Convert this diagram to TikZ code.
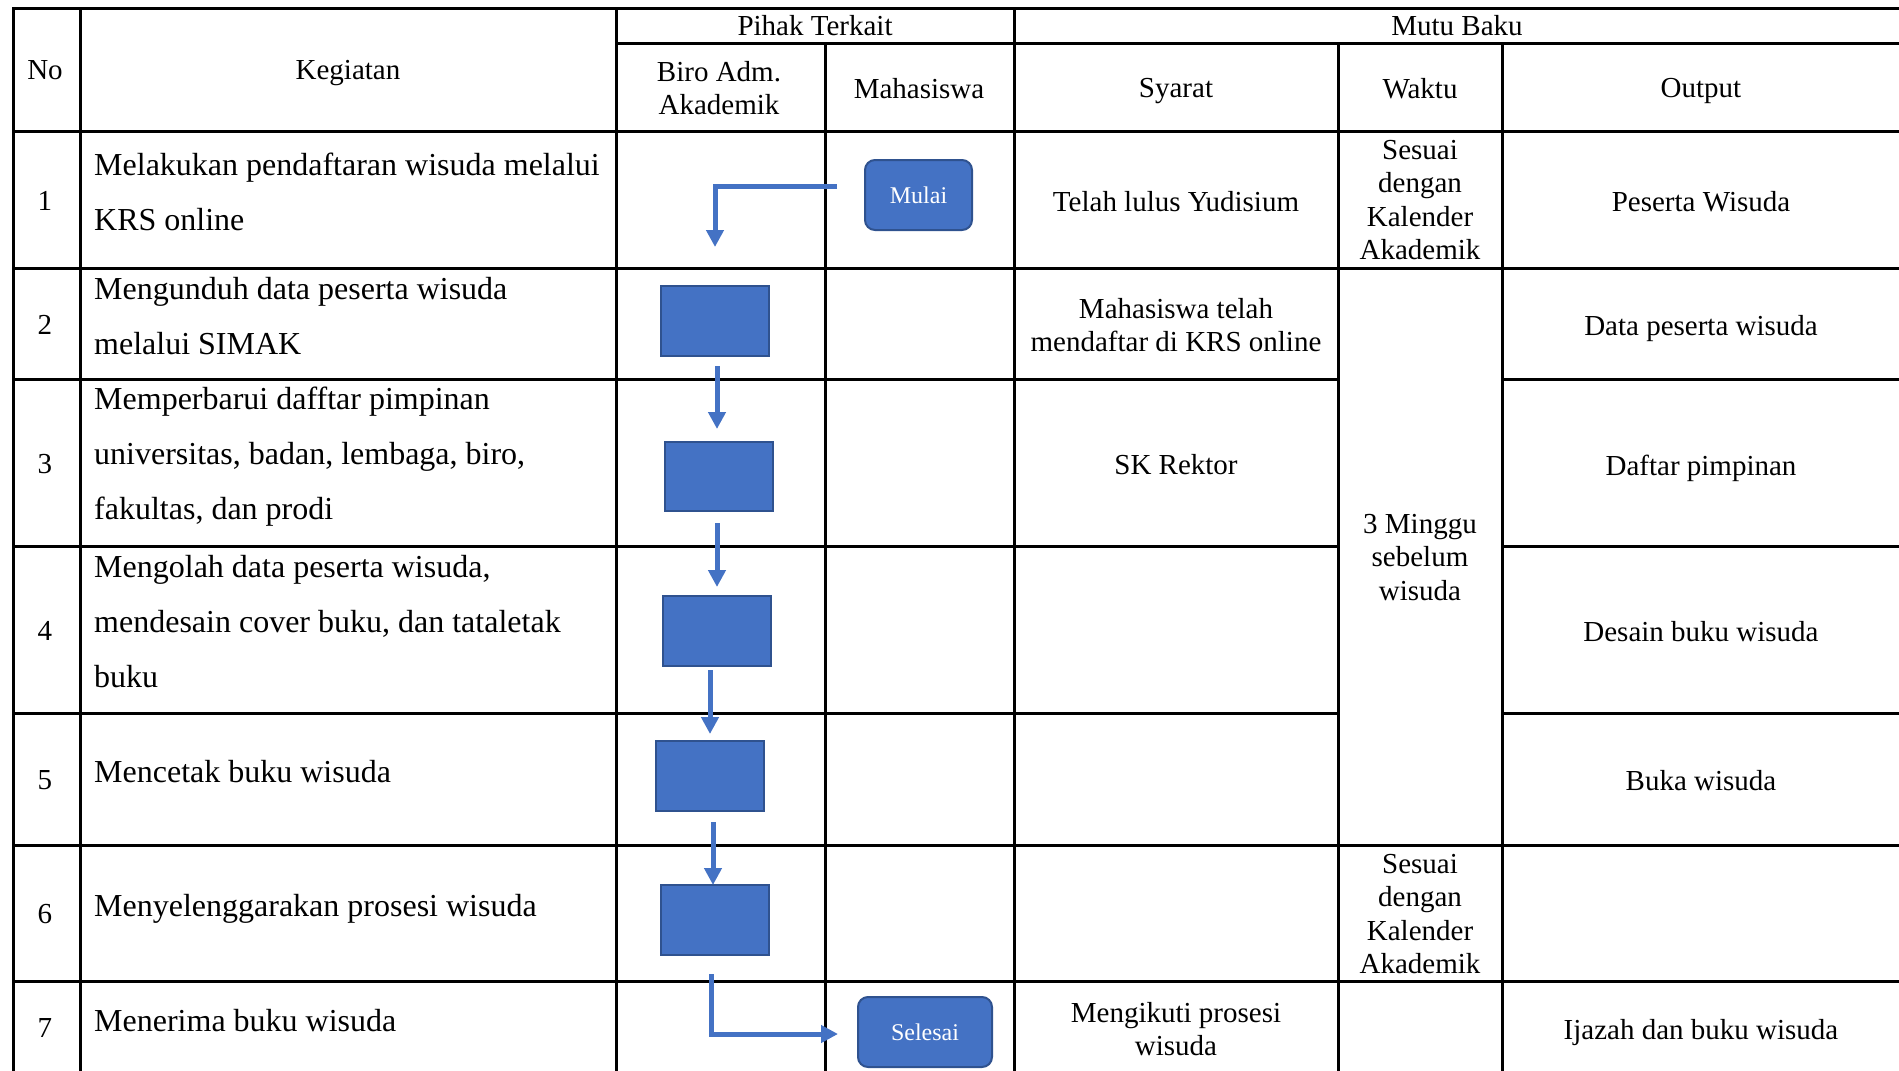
\documentclass[tikz,border=0pt]{standalone}
\usepackage{fontspec}
\setmainfont{Liberation Serif}
\usetikzlibrary{arrows.meta}
\definecolor{boxfill}{HTML}{4472C4}
\definecolor{boxedge}{HTML}{2F528F}
\begin{document}
\begin{tikzpicture}[x=1pt,y=-1pt,
  grid/.style={line width=3pt,line cap=rect},
  cell/.style={font=\fontsize{29}{33.5}\selectfont,align=center,inner sep=0pt,text depth=0pt},
  act/.style={font=\fontsize{32}{55}\selectfont,align=left,anchor=west,inner sep=0pt},
  procbox/.style={draw=boxedge,fill=boxfill,line width=2pt,minimum width=108pt,minimum height=70pt,inner sep=0pt},
  termbox/.style={procbox,rounded corners=10pt,text=white,font=\fontsize{24}{28}\selectfont},
  flow/.style={draw=boxfill,line width=5pt,-{Triangle[width=17pt,length=17pt]}}]
\useasboundingbox (0,0) rectangle (1899,1071);
\begin{scope}
\clip (0,0) rectangle (1899,1071);
% verticals
\draw[grid] (13,8.5) -- (13,1080);
\draw[grid] (80,8.5) -- (80,1080);
\draw[grid] (616,8.5) -- (616,1080);
\draw[grid] (825,43.6) -- (825,1080);
\draw[grid] (1014,8.5) -- (1014,1080);
\draw[grid] (1338,43.6) -- (1338,1080);
\draw[grid] (1502,43.6) -- (1502,1080);
% horizontals
\draw[grid] (13,8.5) -- (1910,8.5);
\draw[grid] (616,43.6) -- (1910,43.6);
\draw[grid] (13,131) -- (1910,131);
\draw[grid] (13,268) -- (1910,268);
\foreach \yy in {379,546,713}{
  \draw[grid] (13,\yy) -- (1338,\yy);
  \draw[grid] (1502,\yy) -- (1910,\yy);
}
\draw[grid] (13,845) -- (1910,845);
\draw[grid] (13,981) -- (1910,981);
\end{scope}
% headers
\node[cell] (hno) at (45,70) {No};
\node[cell] (hkeg) at (348,70) {Kegiatan};
\node[cell] (hpihak) at (815,25) {Pihak Terkait};
\node[cell] (hmutu) at (1457,25) {Mutu Baku};
\node[cell] (hbiro) at (719,88) {Biro Adm.\\Akademik};
\node[cell] (hmhs) at (919,88) {Mahasiswa};
\node[cell] (hsyarat) at (1176,88) {Syarat};
\node[cell] (hwaktu) at (1420,88) {Waktu};
\node[cell] (houtput) at (1701,88) {Output};
% numbers
\node[cell] (n1) at (45,201) {1};
\node[cell] (n2) at (45,325) {2};
\node[cell] (n3) at (45,464) {3};
\node[cell] (n4) at (45,631) {4};
\node[cell] (n5) at (45,780) {5};
\node[cell] (n6) at (45,914) {6};
\node[cell] (n7) at (45,1028) {7};
% activities
\node[act] (k1) at (94,192) {Melakukan pendaftaran wisuda melalui\\KRS online};
\node[act] (k2) at (94,316) {Mengunduh data peserta wisuda\\melalui SIMAK};
\node[act] (k3) at (94,457) {Memperbarui dafftar pimpinan\\universitas, badan, lembaga, biro,\\fakultas, dan prodi};
\node[act] (k4) at (94,622) {Mengolah data peserta wisuda,\\mendesain cover buku, dan tataletak\\buku};
\node[act] (k5) at (94,772) {Mencetak buku wisuda};
\node[act] (k6) at (94,909) {Menyelenggarakan prosesi wisuda};
\node[act] (k7) at (94,1021) {Menerima buku wisuda};
% syarat
\node[cell] (s1) at (1176,201) {Telah lulus Yudisium};
\node[cell] (s2) at (1176,325) {Mahasiswa telah\\mendaftar di KRS online};
\node[cell] (s3) at (1176,464) {SK Rektor};
\node[cell] (s7) at (1176,1029) {Mengikuti prosesi\\wisuda};
% waktu
\node[cell] (w1) at (1420,200) {Sesuai\\dengan\\Kalender\\Akademik};
\node[cell] (w2) at (1420,557) {3 Minggu\\sebelum\\wisuda};
\node[cell] (w6) at (1420,914) {Sesuai\\dengan\\Kalender\\Akademik};
% output
\node[cell] (o1) at (1701,201) {Peserta Wisuda};
\node[cell] (o2) at (1701,325) {Data peserta wisuda};
\node[cell] (o3) at (1701,465) {Daftar pimpinan};
\node[cell] (o4) at (1701,631) {Desain buku wisuda};
\node[cell] (o5) at (1701,780) {Buka wisuda};
\node[cell] (o7) at (1701,1029) {Ijazah dan buku wisuda};
% flow shapes
\node[termbox,minimum width=107pt] (mulai) at (918.5,195) {Mulai};
\node[procbox] (b2) at (715,321) {};
\node[procbox,minimum height=69pt] (b3) at (719,476.5) {};
\node[procbox] (b4) at (717,631) {};
\node[procbox] (b5) at (710,776) {};
\node[procbox] (b6) at (715,920) {};
\node[termbox,minimum width=134pt] (selesai) at (925,1032) {Selesai};
% connector ends
\coordinate (a1s) at (837,186);
\coordinate (a1e) at (715,247);
\coordinate (a2s) at (717,366);
\coordinate (a2e) at (717,429);
\coordinate (a3s) at (717,523);
\coordinate (a3e) at (717,587);
\coordinate (a4s) at (710,670);
\coordinate (a4e) at (710,734);
\coordinate (a5s) at (713,822);
\coordinate (a5e) at (713,885);
\coordinate (a6s) at (711,974);
\coordinate (a6e) at (838,1034);
\draw[flow] (a1s) -| (a1e);
\draw[flow] (a2s) -- (a2e);
\draw[flow] (a3s) -- (a3e);
\draw[flow] (a4s) -- (a4e);
\draw[flow] (a5s) -- (a5e);
\draw[flow] (a6s) |- (a6e);
\end{tikzpicture}
\end{document}
